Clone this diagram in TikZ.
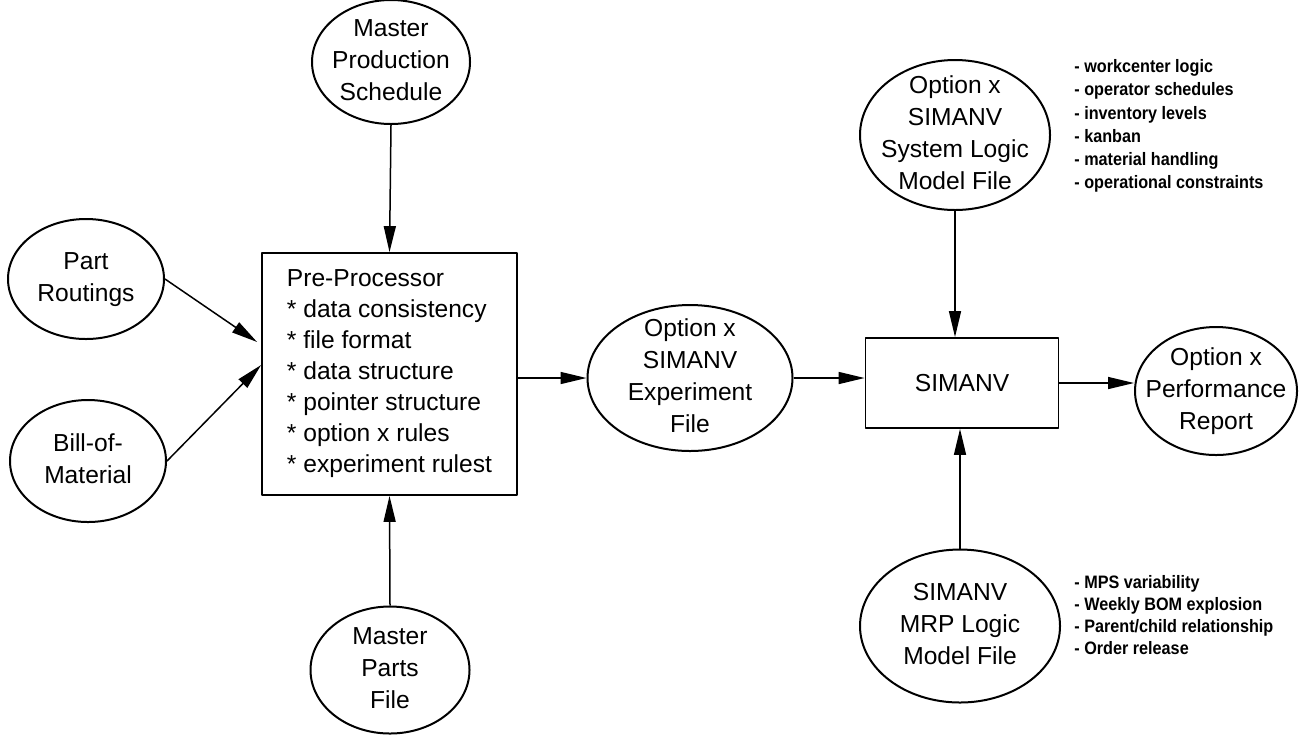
\documentclass[tikz,border=0pt]{standalone}
\usepackage{fontspec}
\setmainfont{Liberation Sans}
\newfontfamily\listfont[FakeStretch=0.9]{Liberation Sans}
\usetikzlibrary{arrows.meta,shapes.geometric,calc}

% centred text that does not widen the ellipse round it
\newcommand\ftext[1]{\makebox[0pt]{\smash{\raisebox{-3pt}{\begin{tabular}[c]{@{}c@{}}#1\end{tabular}}}}}

\begin{document}
\begin{tikzpicture}[x=0.5pt,y=-0.5pt,>={Triangle[length=13pt,width=6pt]},line join=round,
    file/.style={draw,ellipse,line width=1pt,inner sep=0pt,font=\fontsize{12.3}{16}\selectfont},
    proc/.style={draw,rectangle,line width=0.9pt,inner sep=0pt,font=\fontsize{12.3}{15.5}\selectfont},
    flow/.style={->,line width=0.75pt},
    notes/.style={anchor=west,align=left,inner sep=0pt,font=\listfont\bfseries\fontsize{9}{11.6}\selectfont}]
  \useasboundingbox (0,0) rectangle (1309,735);
  % inputs of the pre-processor
  \node[file,minimum width=79pt,minimum height=62pt] (mps) at (391,62) {\ftext{Master\\Production\\Schedule}};
  \node[file,minimum width=78pt,minimum height=60pt] (routing) at (86,279) {\ftext{Part\\Routings}};
  \node[file,minimum width=78pt,minimum height=61pt] (bom) at (88,461) {\ftext{Bill-of-\\Material}};
  \node[file,minimum width=79.5pt,minimum height=63.5pt] (parts) at (390,670) {\ftext{Master\\Parts\\File}};
  \node[proc,minimum width=127.5pt,minimum height=121pt,align=left] (pre) at (389.5,374)
    {Pre-Processor\\* data consistency\\* file format\\* data structure\\* pointer structure\\* option x rules\\* experiment rulest};
  % simulation side
  \node[file,minimum width=102.5pt,minimum height=73pt] (exp) at (690,378) {\ftext{Option x\\SIMANV\\Experiment\\File}};
  \node[proc,minimum width=96.5pt,minimum height=45pt] (sim) at (962,383) {SIMANV};
  \node[file,minimum width=95pt,minimum height=75pt] (sys) at (955,135) {\ftext{Option x\\SIMANV\\System Logic\\Model File}};
  \node[file,minimum width=100pt,minimum height=76.5pt] (mrp) at (960,626) {\ftext{SIMANV\\MRP Logic\\Model File}};
  \node[file,minimum width=81pt,minimum height=64pt] (perf) at (1216,391) {\ftext{Option x\\Performance\\Report}};
  % side notes
  \node[notes] (syslist) at (1074,126) {- workcenter logic\\- operator schedules\\- inventory levels\\- kanban\\- material handling\\- operational constraints};
  \node[notes,font=\listfont\bfseries\fontsize{9}{11}\selectfont] (mrplist) at (1074,615) {- MPS variability\\- Weekly BOM explosion\\- Parent/child relationship\\- Order release};
  % flows
  \draw[flow] (mps.south) -- (pre.north);
  \draw[flow] (parts.north) -- (pre.south);
  \draw[flow] (routing.east) -- ($(pre.west)+(-4,-32)$);
  \draw[flow] (bom.east) -- ($(pre.west)+(0,-9)$);
  \draw[flow] (pre.east |- exp.west) -- (exp.west);
  \draw[flow] (exp.east) -- (exp.east -| sim.west);
  \draw[flow] (sys.south) -- (sys.south |- sim.north);
  \draw[flow] (mrp.north) -- (mrp.north |- sim.south);
  \draw[flow] (sim.east) -- (sim.east -| perf.west);
\end{tikzpicture}
\end{document}
